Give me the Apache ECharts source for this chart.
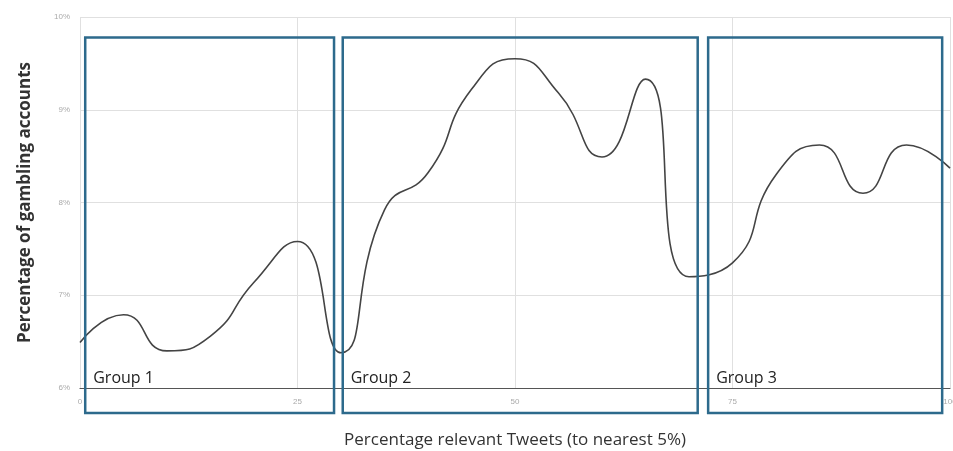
<!DOCTYPE html>
<html><head><meta charset="utf-8">
<script src="https://cdn.jsdelivr.net/npm/echarts@6/dist/echarts.min.js"></script>
<style>html,body{margin:0;padding:0;background:#fff}#c{width:953px;height:451px}</style>
</head><body><div id="c"></div>
<script>
const xValues = [0,5,10,15,20,25,30,35,40,45,50,55,60,65,70,75,80,85,90,95,100];
const yValues = [6.49,6.79,6.40,6.56,7.14,7.58,6.38,7.92,8.32,9.22,9.55,9.18,8.49,9.33,7.20,7.35,8.30,8.62,8.10,8.62,8.37];
const xTicks = ['0','25','50','75','100'];
const yTicks = ['6%','7%','8%','9%','10%'];
const groupNames = ['Group 1','Group 2','Group 3'];
const groupStart = [0.6,30.2,72.2];
const groupEnd = [29.2,71.0,99.1];
const groupBottom = 5.73, groupTop = 9.78;

const chart = echarts.init(document.getElementById('c'));
const boxes = groupNames.map((n,i)=>[groupStart[i], groupEnd[i], groupBottom, groupTop, n]);
chart.setOption({
  animation:false,
  grid:{left:80,right:3,top:17,bottom:63,outerBoundsMode:'none',containLabel:false},
  xAxis:{type:'value',min:0,max:100,interval:25,
    name:'Percentage relevant Tweets (to nearest 5%)',nameLocation:'middle',nameGap:44,
    nameTextStyle:{fontFamily:'Open Sans',fontSize:17,color:'#333'},
    axisLine:{show:true,onZero:false,lineStyle:{color:'#555',width:1.2}},
    axisTick:{show:false},
    axisLabel:{fontSize:8,color:'#aaa',margin:10,formatter:v=>xTicks[v/25]},
    splitLine:{show:true,lineStyle:{color:'#e0e0e0',width:1}}},
  yAxis:{type:'value',min:6,max:10,interval:1,
    name:'Percentage of gambling accounts',nameLocation:'middle',nameGap:46,
    nameTextStyle:{fontFamily:'Open Sans',fontSize:17,fontWeight:'bold',color:'#333'},
    axisLine:{show:false},axisTick:{show:false},
    axisLabel:{fontSize:8,color:'#aaa',margin:10,formatter:v=>yTicks[v-6]},
    splitLine:{show:true,lineStyle:{color:'#e0e0e0',width:1}}},
  series:[
    {type:'line',data:xValues.map((x,i)=>[x,yValues[i]]),smooth:0.55,symbol:'none',
     lineStyle:{color:'#444',width:1.6},z:3},
    {type:'custom',clip:false,z:4,data:boxes,
     renderItem:(params,api)=>{
       const p1=api.coord([api.value(0),api.value(3)]);
       const p2=api.coord([api.value(1),api.value(2)]);
       const lab=api.coord([api.value(0),6.1]);
       return {type:'group',children:[
         {type:'rect',shape:{x:p1[0],y:p1[1],width:p2[0]-p1[0],height:p2[1]-p1[1]},
          style:{fill:'none',stroke:'#2d6a8c',lineWidth:2.5}},
         {type:'text',style:{text:groupNames[params.dataIndex],x:lab[0]+8,y:lab[1],
          fontFamily:'Open Sans',fontSize:16,fontWeight:500,fill:'#222',verticalAlign:'middle'}}
       ]};
     }}
  ]
});
</script></body></html>
